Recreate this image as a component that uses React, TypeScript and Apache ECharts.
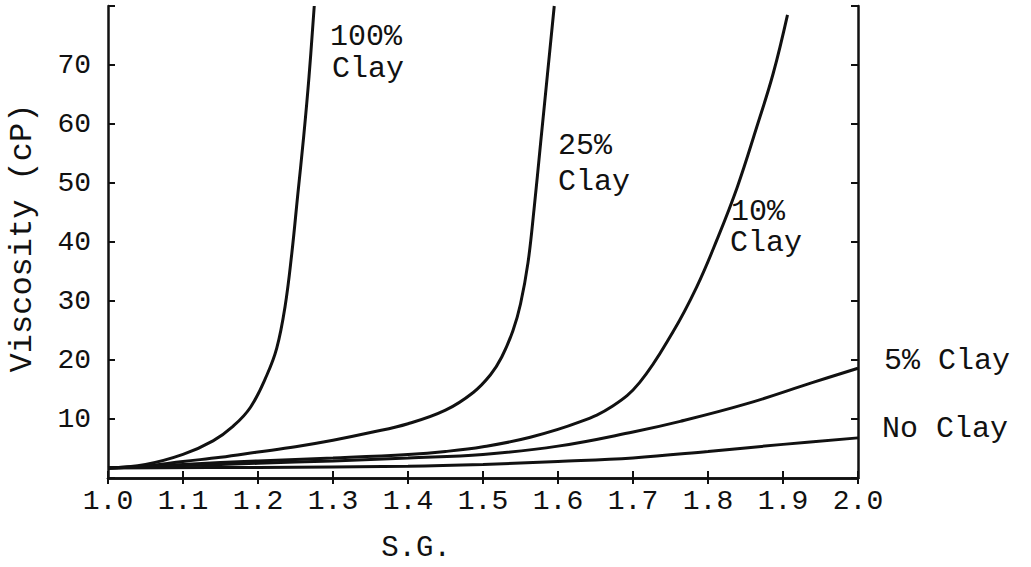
import React, { useEffect, useRef } from "react";
import * as echarts from "echarts";

// Specific gravity (S.G.) vs viscosity (cP) for mud with different clay contents
const xTicks = [1.0, 1.1, 1.2, 1.3, 1.4, 1.5, 1.6, 1.7, 1.8, 1.9, 2.0];
const yTicks = [10, 20, 30, 40, 50, 60, 70];

const clay100: [number, number][] = [
  [1.0, 1.7], [1.05, 2.3], [1.1, 4.0], [1.14, 6.3], [1.167, 8.8], [1.19, 12],
  [1.212, 17.5], [1.225, 22], [1.236, 29], [1.245, 38], [1.253, 48],
  [1.261, 58], [1.268, 68], [1.275, 80],
];
const clay25: [number, number][] = [
  [1.0, 1.7], [1.05, 2.0], [1.1, 2.8], [1.15, 3.5], [1.2, 4.4], [1.25, 5.3],
  [1.3, 6.4], [1.35, 7.7], [1.4, 9.2], [1.45, 11.5], [1.487, 14.5], [1.51, 17.5],
  [1.525, 20.5], [1.54, 25], [1.55, 29.5], [1.56, 36.5], [1.568, 45.5],
  [1.577, 57], [1.586, 68.5], [1.595, 80],
];
const clay10: [number, number][] = [
  [1.0, 1.7], [1.1, 2.3], [1.2, 2.9], [1.3, 3.4], [1.4, 4.0], [1.45, 4.5],
  [1.5, 5.3], [1.563, 6.9], [1.629, 9.5], [1.673, 12.2], [1.709, 16.2],
  [1.753, 24.7], [1.785, 32.4], [1.812, 40.4], [1.839, 49.3], [1.865, 59.5],
  [1.887, 68.6], [1.906, 78.5],
];
const clay5: [number, number][] = [
  [1.0, 1.7], [1.1, 2.1], [1.2, 2.5], [1.3, 2.9], [1.4, 3.4], [1.5, 4.0],
  [1.6, 5.4], [1.7, 7.8], [1.763, 9.6], [1.852, 12.6], [1.94, 16.2],
  [2.0, 18.6],
];
const noClay: [number, number][] = [
  [1.0, 1.7], [1.2, 1.8], [1.4, 2.0], [1.5, 2.3], [1.6, 2.8], [1.7, 3.4],
  [1.8, 4.5], [1.9, 5.7], [2.0, 6.8],
];

const seriesNames = ["100% Clay", "25% Clay", "10% Clay", "5% Clay", "No Clay"];
const seriesData = [clay100, clay25, clay10, clay5, noClay];

const FONT = "'Liberation Mono', 'DejaVu Sans Mono', monospace";
const INK = "#111";

export default function App() {
  const ref = useRef<HTMLDivElement>(null);

  useEffect(() => {
    if (!ref.current) return;
    const chart = echarts.init(ref.current, undefined, { renderer: "svg" });

    const text = (x: number, y: number, s: string, size = 30, extra: any = {}) => ({
      type: "text",
      x,
      y,
      style: {
        text: s,
        font: `${size}px ${FONT}`,
        fill: INK,
        verticalAlign: "middle",
        ...extra,
      },
    });

    const axisCommon = {
      axisLine: { show: true, lineStyle: { color: INK, width: 2.5 } },
      splitLine: { show: false },
    };

    chart.setOption({
      animation: false,
      backgroundColor: "#fff",
      grid: { left: 108, right: 173, top: 6, bottom: 89 },
      xAxis: [
        {
          type: "value",
          min: xTicks[0],
          max: xTicks[xTicks.length - 1],
          interval: 0.1,
          ...axisCommon,
          axisTick: { show: true, inside: true, length: 7, lineStyle: { color: INK, width: 2 } },
          axisLabel: {
            color: INK,
            fontFamily: FONT,
            fontSize: 28,
            margin: 9,
            formatter: (v: number) => v.toFixed(1),
          },
        },
        {
          type: "value",
          position: "top",
          min: xTicks[0],
          max: xTicks[xTicks.length - 1],
          interval: 0.1,
          ...axisCommon,
          axisTick: { show: true, inside: true, length: 6, lineStyle: { color: INK, width: 2 } },
          axisLabel: { show: false },
        },
      ],
      yAxis: [
        {
          type: "value",
          min: 0,
          max: 80,
          interval: 10,
          ...axisCommon,
          axisTick: { show: true, inside: true, length: 7, lineStyle: { color: INK, width: 2 } },
          axisLabel: {
            color: INK,
            fontFamily: FONT,
            fontSize: 28,
            margin: 17,
            formatter: (v: number) => (yTicks.includes(v) ? String(v) : ""),
          },
        },
        {
          type: "value",
          position: "right",
          min: 0,
          max: 80,
          interval: 10,
          ...axisCommon,
          axisTick: { show: true, inside: true, length: 7, lineStyle: { color: INK, width: 2 } },
          axisLabel: { show: false },
        },
      ],
      series: seriesData.map((d, i) => ({
        name: seriesNames[i],
        type: "line",
        data: d,
        smooth: 0.4,
        showSymbol: false,
        symbol: "none",
        lineStyle: { color: INK, width: 3 },
        z: 3,
      })),
      graphic: [
        text(330, 37, "100%"),
        text(332, 69, "Clay"),
        text(558, 146, "25%"),
        text(558, 182, "Clay"),
        text(731, 212, "10%"),
        text(730, 243, "Clay"),
        text(884, 361, "5% Clay"),
        text(882, 429, "No Clay"),
        text(416, 548, "S.G.", 29, { align: "center" }),
        {
          type: "text",
          x: 22,
          y: 238,
          rotation: Math.PI / 2,
          style: {
            text: "Viscosity (cP)",
            font: `32px ${FONT}`,
            fill: INK,
            align: "center",
            verticalAlign: "middle",
          },
        },
      ],
    });

    return () => chart.dispose();
  }, []);

  return (
    <div
      ref={ref}
      style={{ position: "fixed", left: 0, top: 0, width: 1031, height: 567 }}
    />
  );
}
